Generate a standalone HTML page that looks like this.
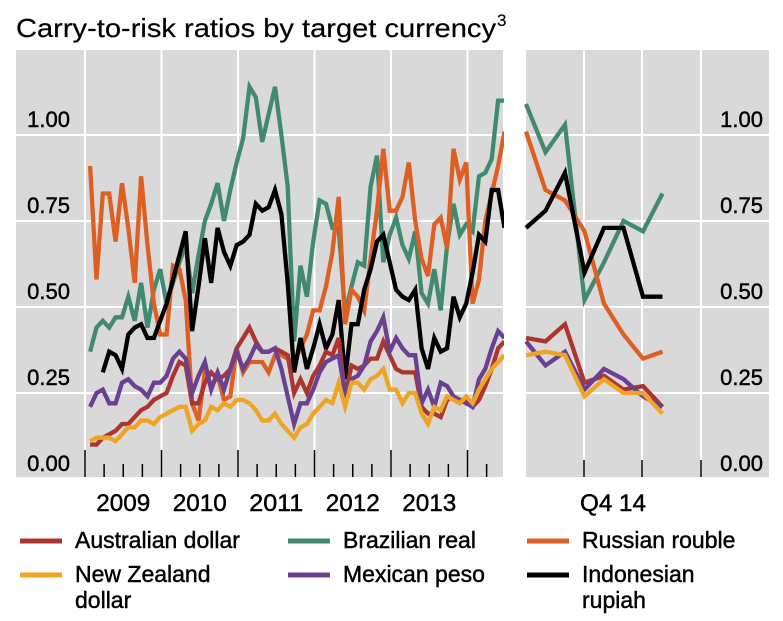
<!DOCTYPE html>
<html><head><meta charset="utf-8"><style>
html,body{margin:0;padding:0;background:#fff;}
svg{display:block;font-family:"Liberation Sans",Arial,sans-serif;}
svg text{stroke:#000;stroke-width:0.45px;}
</style></head><body>
<svg id="chart" width="783" height="621" viewBox="0 0 783 621" xmlns="http://www.w3.org/2000/svg">
<text x="16" y="37" font-size="26" textLength="480" lengthAdjust="spacingAndGlyphs" style="stroke-width:0.2px">Carry-to-risk ratios by target currency</text>
<text x="497" y="26" font-size="17" style="stroke-width:0.2px">3</text>
<rect x="16" y="50" width="487" height="427" fill="#d9d9d9"/>
<rect x="526" y="50" width="243" height="427" fill="#d9d9d9"/>
<g id="grid"></g>
<g id="series"></g>
<g id="labels"></g>
<g id="legend"></g>
</svg>
<script>
// ---- data ----
const yTicks = [0, 0.25, 0.5, 0.75, 1.0];
const yTickLabels = ["0.00", "0.25", "0.50", "0.75", "1.00"];
const yearLabels = ["2009", "2010", "2011", "2012", "2013"];
const rightLabel = "Q4 14";
// left panel: monthly observations starting Jan 2009 (index 0)
const audLeft = [0.10,0.10,0.12,0.13,0.14,0.16,0.16,0.18,0.20,0.21,0.23,0.24,0.25,0.30,0.34,0.33,0.22,0.22,0.28,0.31,0.29,0.30,0.32,0.38,0.41,0.44,0.40,0.37,0.37,0.38,0.37,0.36,0.25,0.29,0.25,0.30,0.33,0.37,0.36,0.41,0.24,0.33,0.32,0.33,0.35,0.35,0.40,0.36,0.32,0.31,0.31,0.31,0.21,0.19,0.19,0.18,0.23,0.24,0.23,0.23,0.21,0.23,0.27,0.32,0.38,0.40];
const brlLeft = [0.37,0.44,0.46,0.44,0.47,0.47,0.53,0.46,0.57,0.44,0.55,0.61,0.51,0.57,0.63,0.68,0.54,0.65,0.75,0.80,0.86,0.75,0.84,0.92,0.99,1.14,1.11,0.98,1.06,1.14,1.00,0.85,0.40,0.62,0.53,0.69,0.81,0.80,0.73,0.73,0.48,0.56,0.63,0.62,0.85,0.94,0.63,0.71,0.76,0.68,0.64,0.72,0.54,0.51,0.61,0.49,0.68,0.80,0.71,0.74,0.72,0.88,0.89,0.93,1.10,1.10];
const rubLeft = [0.91,0.58,0.83,0.83,0.69,0.86,0.73,0.57,0.88,0.68,0.51,0.42,0.42,0.62,0.61,0.52,0.22,0.17,0.31,0.27,0.30,0.23,0.24,0.38,0.31,0.34,0.34,0.34,0.31,0.36,0.36,0.35,0.34,0.38,0.42,0.49,0.49,0.56,0.66,0.82,0.45,0.55,0.53,0.49,0.64,0.78,0.96,0.78,0.78,0.82,0.92,0.75,0.64,0.59,0.74,0.76,0.67,0.96,0.87,0.92,0.51,0.58,0.75,0.83,0.91,1.01];
const nzdLeft = [0.11,0.12,0.12,0.12,0.11,0.13,0.15,0.15,0.17,0.17,0.16,0.18,0.19,0.20,0.21,0.21,0.14,0.16,0.17,0.21,0.20,0.22,0.21,0.23,0.23,0.22,0.20,0.17,0.17,0.19,0.16,0.14,0.12,0.15,0.16,0.19,0.21,0.23,0.22,0.28,0.21,0.28,0.28,0.26,0.29,0.30,0.32,0.26,0.26,0.22,0.25,0.25,0.19,0.16,0.21,0.20,0.24,0.23,0.22,0.24,0.22,0.26,0.29,0.32,0.34,0.36];
const mxnLeft = [0.21,0.25,0.26,0.22,0.22,0.28,0.29,0.27,0.26,0.24,0.28,0.28,0.30,0.35,0.37,0.35,0.25,0.30,0.34,0.26,0.31,0.26,0.32,0.37,0.32,0.35,0.39,0.37,0.37,0.38,0.32,0.24,0.16,0.22,0.22,0.26,0.31,0.34,0.35,0.36,0.25,0.29,0.30,0.33,0.40,0.43,0.47,0.37,0.41,0.38,0.36,0.36,0.22,0.26,0.21,0.28,0.27,0.24,0.23,0.22,0.21,0.29,0.32,0.38,0.43,0.41];
const idrLeft = [null,null,0.31,0.37,0.36,0.32,0.42,0.44,0.45,0.41,0.41,0.46,0.51,0.58,0.65,0.72,0.43,0.56,0.70,0.57,0.73,0.66,0.62,0.68,0.69,0.71,0.80,0.78,0.79,0.84,0.77,0.57,0.31,0.41,0.32,0.38,0.45,0.38,0.42,0.52,0.29,0.45,0.45,0.55,0.61,0.69,0.71,0.63,0.55,0.53,0.52,0.55,0.38,0.32,0.41,0.37,0.38,0.53,0.47,0.51,0.60,0.71,0.69,0.84,0.84,0.73];
// right panel: recent observations (8 points)
const audRight = [0.41,0.40,0.45,0.28,0.30,0.26,0.27,0.21];
const brlRight = [1.09,0.95,1.03,0.52,0.63,0.75,0.72,0.83];
const rubRight = [1.01,0.84,0.81,0.72,0.51,0.42,0.35,0.37];
const nzdRight = [0.36,0.37,0.36,0.24,0.29,0.25,0.25,0.19];
const mxnRight = [0.40,0.33,0.37,0.26,0.32,0.29,0.24,0.21];
const idrRight = [0.73,0.78,0.89,0.60,0.73,0.73,0.53,0.53];
const seriesNames = ["Australian dollar","Brazilian real","Russian rouble","New Zealand dollar","Mexican peso","Indonesian rupiah"];

const NS = "http://www.w3.org/2000/svg";
const colors = ["#ad3530","#428a6f","#de5f22","#efa523","#6a4090","#000000"];
function yScale(v){ return 479 - v*344; }
function xLeft(i){ return 85 + (i+0.8)*6.375; }
function xRight(i){ return 526 + i*19.5; }
function mk(tag, attrs, parent){ const e=document.createElementNS(NS,tag); for(const k in attrs) e.setAttribute(k,attrs[k]); parent.appendChild(e); return e; }

const grid = document.getElementById('grid');
yTicks.forEach((t,k)=>{
  if(t===0) return;
  const a = mk('line',{x1:16,x2:503,y1:yScale(t),y2:yScale(t),stroke:'#fff','stroke-width':2},grid);
  
  
  const b = mk('line',{x1:526,x2:769,y1:yScale(t),y2:yScale(t),stroke:'#fff','stroke-width':2},grid);
  
  
});
for(let y=0;y<=5;y++){
  const x = 85 + y*76.5;
  const g = mk('line',{x1:x,x2:x,y1:50,y2:477,stroke:'#fff','stroke-width':2},grid);
  
  
  const t = mk('line',{x1:x,x2:x,y1:450,y2:477,stroke:'#000','stroke-width':1.5},grid);
  
  
  for(let q=1;q<4;q++){
    const xq = x + q*76.5/4;
    if(xq>503) break;
    const m = mk('line',{x1:xq,x2:xq,y1:464,y2:477,stroke:'#000','stroke-width':1.5},grid);
    
    
  }
}
[584,642,701].forEach(x=>{
  const g = mk('line',{x1:x,x2:x,y1:50,y2:477,stroke:'#fff','stroke-width':2},grid);
  
  
  const t = mk('line',{x1:x,x2:x,y1:460,y2:477,stroke:'#000','stroke-width':1.5},grid);
  
  
});

const sg = document.getElementById('series');
const lefts = [audLeft,brlLeft,rubLeft,nzdLeft,mxnLeft,idrLeft];
const rights = [audRight,brlRight,rubRight,nzdRight,mxnRight,idrRight];
const order = [1,2,5,0,4,3];
function pathFor(arr, xf){
  let d=''; let pen=false;
  arr.forEach((v,i)=>{ if(v===null){pen=false;return;} d += (pen?'L':'M')+xf(i).toFixed(1)+','+yScale(v).toFixed(1); pen=true; });
  return d;
}
order.forEach(s=>{
  const slug = seriesNames[s].toLowerCase().replace(/ /g,'-');
  const p1 = mk('path',{d:pathFor(lefts[s],xLeft),fill:'none',stroke:colors[s],'stroke-width':4.3,'stroke-linejoin':'miter','clip-path':'url(#clipL)'},sg);
  
  
  const p2 = mk('path',{d:pathFor(rights[s],xRight),fill:'none',stroke:colors[s],'stroke-width':4.3,'stroke-linejoin':'miter'},sg);
  
  
});
const defs = mk('defs',{},document.getElementById('chart'));
const cp = mk('clipPath',{id:'clipL'},defs);
mk('rect',{x:16,y:50,width:488,height:427},cp);

const lg = document.getElementById('labels');
yTicks.forEach((t,k)=>{
  const y = yScale(t) - 8;
  const a = mk('text',{x:70,y:y,'font-size':22,'text-anchor':'end'},lg);
  a.textContent = yTickLabels[k];
  
  
  const b = mk('text',{x:763,y:y,'font-size':22,'text-anchor':'end'},lg);
  b.textContent = yTickLabels[k];
  
  
});
yearLabels.forEach((lab,k)=>{
  const x = 85 + (k+0.5)*76.5;
  const t = mk('text',{x:x,y:511,'font-size':24,'text-anchor':'middle',textLength:54,lengthAdjust:'spacingAndGlyphs'},lg);
  t.textContent = lab;
  
  
});
const q = mk('text',{x:613,y:511,'font-size':24,'text-anchor':'middle',textLength:66,lengthAdjust:'spacingAndGlyphs'},lg);
q.textContent = rightLabel;



const leg = document.getElementById('legend');
const legPos = [[0,20,548],[1,288,548],[2,527,548],[3,20,582],[4,288,582],[5,527,582]];
const legText = [["Australian dollar"],["Brazilian real"],["Russian rouble"],["New Zealand","dollar"],["Mexican peso"],["Indonesian","rupiah"]];
legPos.forEach(([s,x,y])=>{
  const g = mk('g',{},leg);
  
  
  const sw = mk('line',{x1:x,x2:x+42,y1:y-7,y2:y-7,stroke:colors[s],'stroke-width':5},g);
  
  
  legText[s].forEach((ln,j)=>{
    const t = mk('text',{x:x+55,y:y+j*26,'font-size':23},g);
    t.textContent = ln;
    
    
  });
});
</script>
</body></html>
